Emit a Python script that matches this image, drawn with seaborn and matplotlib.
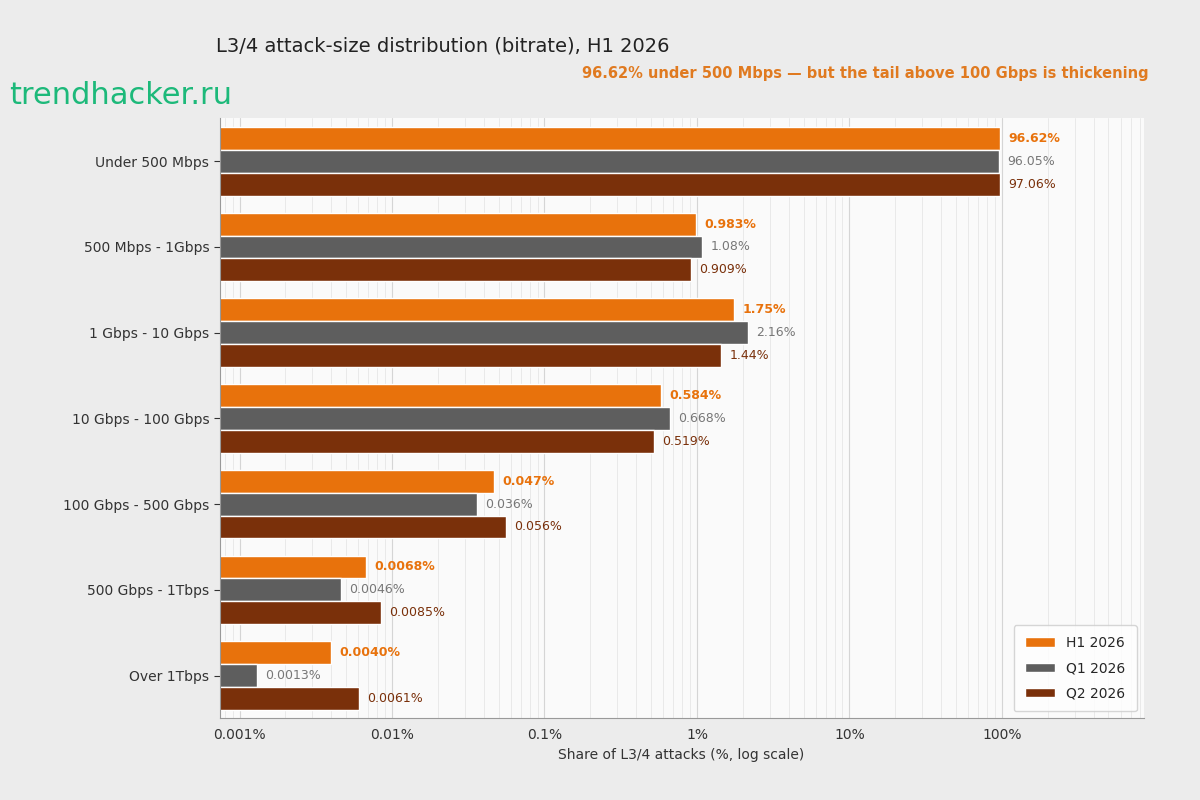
import pandas as pd
import matplotlib.pyplot as plt
import matplotlib.ticker as mticker
import seaborn as sns

# --- data ---
categories = ["Under 500 Mbps", "500 Mbps - 1Gbps", "1 Gbps - 10 Gbps", "10 Gbps - 100 Gbps",
              "100 Gbps - 500 Gbps", "500 Gbps - 1Tbps", "Over 1Tbps"]
periods = ["H1 2026", "Q1 2026", "Q2 2026"]
h1 = [96.62, 0.983, 1.75, 0.584, 0.047, 0.0068, 0.0040]
q1 = [96.05, 1.08, 2.16, 0.668, 0.036, 0.0046, 0.0013]
q2 = [97.06, 0.909, 1.44, 0.519, 0.056, 0.0085, 0.0061]
h1_labels = ["96.62%", "0.983%", "1.75%", "0.584%", "0.047%", "0.0068%", "0.0040%"]
q1_labels = ["96.05%", "1.08%", "2.16%", "0.668%", "0.036%", "0.0046%", "0.0013%"]
q2_labels = ["97.06%", "0.909%", "1.44%", "0.519%", "0.056%", "0.0085%", "0.0061%"]
colors = ["#E8720C", "#5E5E5E", "#7A300A"]

df = pd.DataFrame({
    "category": categories * 3,
    "period": [p for p in periods for _ in categories],
    "share": h1 + q1 + q2,
})

sns.set_style("white")
plt.rcParams['font.family'] = ['DejaVu Sans']

fig = plt.figure(figsize=(12, 8), dpi=100)
fig.patch.set_facecolor("#ECECEC")
ax = fig.add_axes([0.183, 0.102, 0.77, 0.75])
ax.set_facecolor("#FAFAFA")

sns.barplot(data=df, y="category", x="share", hue="period", order=categories,
            hue_order=periods, palette=colors, orient="h", width=0.8,
            ax=ax, saturation=1)
ax.set_xscale("log")

ax.set_xlim(0.00074, 850)
ax.xaxis.set_major_locator(mticker.LogLocator(base=10, numticks=10))
ax.xaxis.set_major_formatter(mticker.FuncFormatter(lambda v, p: f"{v:g}%"))
ax.xaxis.set_minor_locator(mticker.LogLocator(base=10, subs=range(2, 10), numticks=20))
ax.xaxis.set_minor_formatter(mticker.NullFormatter())
ax.grid(True, which="major", axis="x", color="#D5D5D5", lw=0.8)
ax.grid(True, which="minor", axis="x", color="#E6E6E6", lw=0.6)
ax.set_axisbelow(True)
ax.tick_params(axis="both", labelsize=10, colors="#333333")
ax.tick_params(axis="y", length=4, left=True)
ax.set_ylabel("")
ax.set_xlabel("Share of L3/4 attacks (%, log scale)", fontsize=10, color="#333333")
for s in ["top", "right"]:
    ax.spines[s].set_visible(False)
for s in ["left", "bottom"]:
    ax.spines[s].set_color("#999999")

label_sets = [h1_labels, q1_labels, q2_labels]
label_styles = [dict(color="#E8720C", fontweight="bold"), dict(color="#777777"),
                dict(color="#7A300A")]
for cont, labs, st in zip(ax.containers, label_sets, label_styles):
    ax.bar_label(cont, labels=labs, padding=6, fontsize=9, **st)

ax.legend(loc="lower right", fontsize=10, frameon=True, edgecolor="#CCCCCC",
          handlelength=2.2, borderpad=0.8, labelspacing=0.8)

fig.text(0.18, 0.935, "L3/4 attack-size distribution (bitrate), H1 2026",
         fontsize=14, color="#222222", fontweight="medium")
fig.text(0.957, 0.902, "96.62% under 500 Mbps — but the tail above 100 Gbps is thickening",
         fontsize=10.5, color="#E07A20", fontweight="bold", ha="right")
fig.text(0.008, 0.87, "trendhacker.ru", fontsize=22, color="#1DB97A")

fig.savefig("out.png", dpi=100, facecolor=fig.get_facecolor())
